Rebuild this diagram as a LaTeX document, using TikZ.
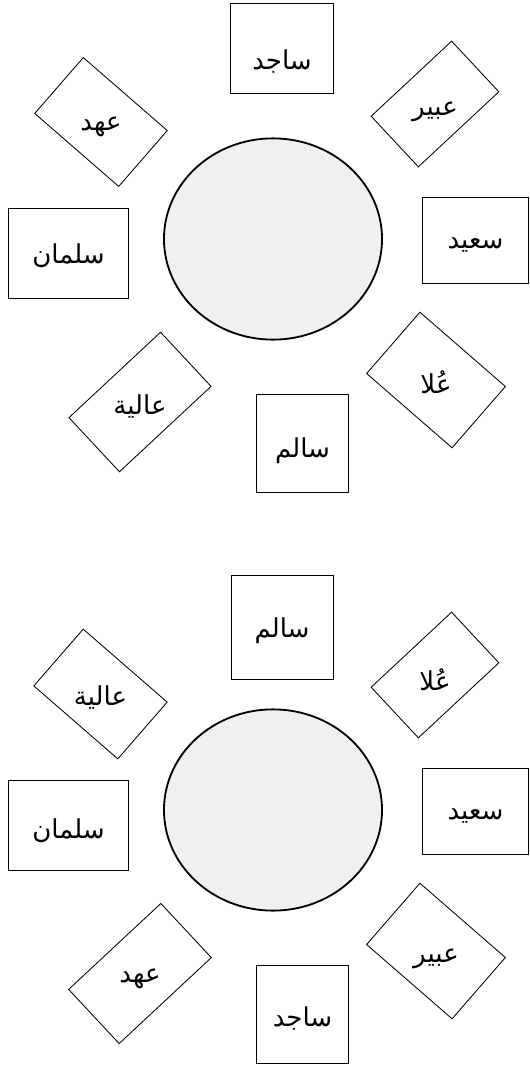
\documentclass[tikz,border=0pt]{standalone}
\usepackage{fontspec}
\usepackage{xcolor}
\usepackage{tikz}
\usetikzlibrary{shapes.geometric}
\TeXXeTstate=1
\newfontfamily\arabicfont[Script=Arabic]{DejaVu Sans}
\definecolor{tablegray}{RGB}{240,240,240}
\tikzset{
  seat/.style 2 args={rectangle, draw=black, fill=white,
    minimum width=#1, minimum height=#2, inner sep=0pt, line width=0.6pt},
  roundtable/.style={ellipse, draw=black, fill=tablegray,
    minimum width=5.45cm, minimum height=5.03cm, inner sep=0pt, line width=1.3pt},
  guestname/.style={font=\arabicfont\fontsize{18.5}{22}\selectfont, inner sep=0pt, yshift=-3.5pt}
}

\begin{document}
\begin{tikzpicture}[x=0.025cm, y=-0.025cm]
  \useasboundingbox (0,0) rectangle (530,1065);

  % First seating plan
  \node[roundtable] (tableA) at (273,239) {};
  \node[seat={2.58cm}{2.23cm}] (sajidA) at (282,48.5) {};
  \node[guestname, yshift=-6pt] (sajidA-t) at (sajidA) {\beginR ساجد\endR};
  \node[seat={2.98cm}{2.23cm}] (salmanA) at (68.5,253.5) {};
  \node[guestname, yshift=2pt] (salmanA-t) at (salmanA) {\beginR سلمان\endR};
  \node[seat={2.63cm}{2.13cm}] (saeedA) at (475.5,240.5) {};
  \node[guestname] (saeedA-t) at (saeedA) {\beginR سعيد\endR};
  \node[seat={2.28cm}{2.45cm}] (salemA) at (302.5,443) {};
  \node[guestname, yshift=-2pt] (salemA-t) at (salemA) {\beginR سالم\endR};
  \node[seat={2.78cm}{1.85cm}, rotate=-41] (ahdA) at (101,122) {};
  \node[guestname] (ahdA-t) at (ahdA) {\beginR عهد\endR};
  \node[seat={2.75cm}{1.73cm}, rotate=43] (abeerA) at (435,104) {};
  \node[guestname, yshift=-2pt] (abeerA-t) at (abeerA) {\beginR عبير\endR};
  \node[seat={3.13cm}{1.85cm}, rotate=43] (aaliaA) at (140,402) {};
  \node[guestname] (aaliaA-t) at (aaliaA) {\beginR عالية\endR};
  \node[seat={2.83cm}{2.03cm}, rotate=-41] (ulaA) at (436,380) {};
  \node[guestname, yshift=2pt] (ulaA-t) at (ulaA) {\beginR عُلا\endR};

  % Second seating plan
  \node[roundtable] (tableB) at (273,810) {};
  \node[seat={2.55cm}{2.6cm}] (salemB) at (282,627) {};
  \node[guestname, yshift=1pt] (salemB-t) at (salemB) {\beginR سالم\endR};
  \node[seat={2.98cm}{2.23cm}] (salmanB) at (68.5,825.5) {};
  \node[guestname] (salmanB-t) at (salmanB) {\beginR سلمان\endR};
  \node[seat={2.63cm}{2.13cm}] (saeedB) at (475.5,811.5) {};
  \node[guestname] (saeedB-t) at (saeedB) {\beginR سعيد\endR};
  \node[seat={2.28cm}{2.45cm}] (sajidB) at (302.5,1014) {};
  \node[guestname] (sajidB-t) at (sajidB) {\beginR ساجد\endR};
  \node[seat={2.78cm}{1.88cm}, rotate=-41] (aaliaB) at (100.5,694) {};
  \node[guestname, yshift=1pt] (aaliaB-t) at (aaliaB) {\beginR عالية\endR};
  \node[seat={2.75cm}{1.73cm}, rotate=43] (ulaB) at (435,675) {};
  \node[guestname] (ulaB-t) at (ulaB) {\beginR عُلا\endR};
  \node[seat={3.15cm}{1.85cm}, rotate=43] (ahdB) at (140,973.5) {};
  \node[guestname] (ahdB-t) at (ahdB) {\beginR عهد\endR};
  \node[seat={2.83cm}{2.03cm}, rotate=-41] (abeerB) at (436,951) {};
  \node[guestname, yshift=-2pt] (abeerB-t) at (abeerB) {\beginR عبير\endR};
\end{tikzpicture}
\end{document}
